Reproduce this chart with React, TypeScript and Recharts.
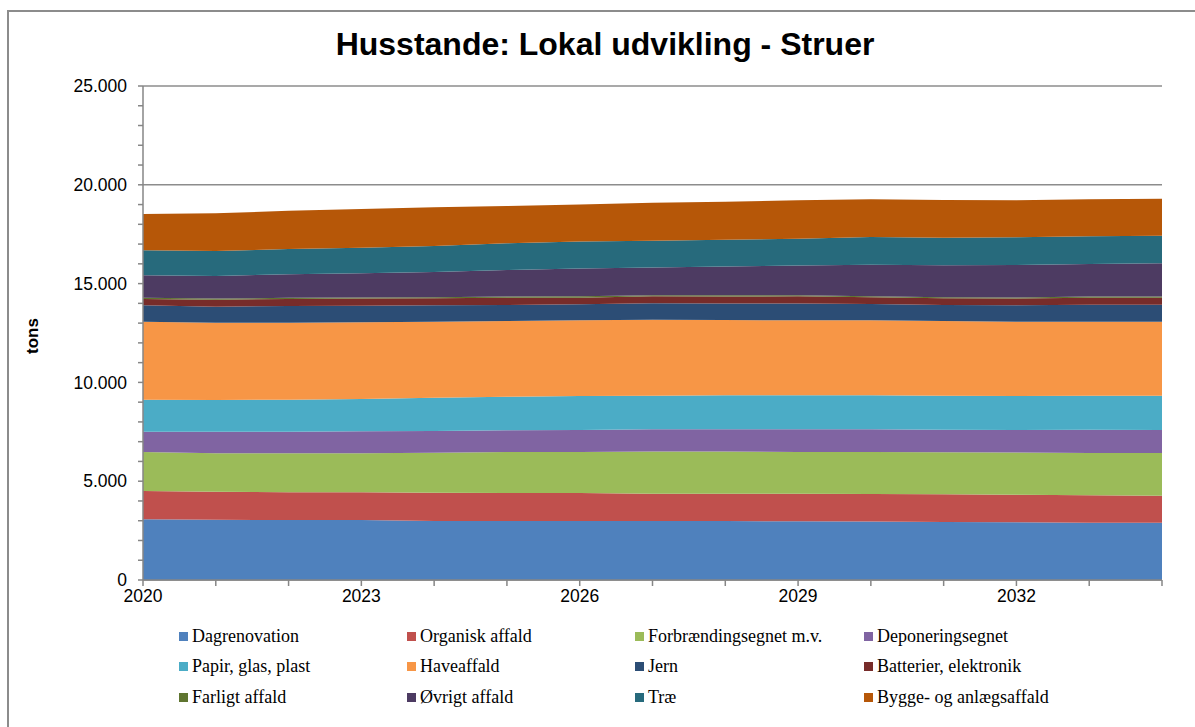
import React from 'react';
import { AreaChart, Area, XAxis, YAxis, CartesianGrid, Legend } from 'recharts';

const years = [2020, 2021, 2022, 2023, 2024, 2025, 2026, 2027, 2028, 2029, 2030, 2031, 2032, 2033, 2034];

const dagrenovation = [3070, 3050, 3035, 3035, 2990, 2985, 2985, 2985, 2980, 2970, 2955, 2935, 2920, 2900, 2900];
const organisk = [1435, 1420, 1405, 1405, 1430, 1415, 1415, 1385, 1390, 1390, 1395, 1400, 1400, 1385, 1370];
const forbraending = [1975, 1940, 1970, 1970, 2020, 2080, 2080, 2130, 2130, 2120, 2130, 2125, 2130, 2145, 2160];
const deponering = [1025, 1095, 1095, 1115, 1100, 1095, 1110, 1125, 1125, 1145, 1145, 1150, 1140, 1170, 1160];
const papir = [1620, 1605, 1620, 1635, 1685, 1700, 1720, 1700, 1720, 1720, 1720, 1720, 1720, 1730, 1740];
const have = [3945, 3910, 3895, 3880, 3845, 3835, 3830, 3850, 3815, 3795, 3795, 3775, 3760, 3740, 3740];
const jern = [830, 810, 845, 840, 830, 810, 810, 825, 830, 850, 825, 810, 830, 865, 865];
const batterier = [320, 355, 355, 360, 355, 365, 340, 355, 355, 365, 340, 340, 340, 350, 350];
const farligt = [60, 60, 60, 60, 60, 60, 65, 60, 60, 60, 60, 60, 60, 60, 60];
const oevrigt = [1140, 1140, 1190, 1220, 1275, 1345, 1405, 1405, 1455, 1495, 1595, 1610, 1640, 1645, 1680];
const trae = [1265, 1265, 1280, 1300, 1310, 1350, 1365, 1350, 1360, 1360, 1400, 1400, 1400, 1405, 1400];
const bygge = [1835, 1905, 1940, 1955, 1960, 1885, 1875, 1925, 1925, 1945, 1905, 1905, 1875, 1870, 1875];

const xLabelYears = [2020, 2023, 2026, 2029, 2032];
const yTicks = [0, 1000, 2000, 3000, 4000, 5000, 6000, 7000, 8000, 9000, 10000, 11000, 12000, 13000, 14000, 15000, 16000, 17000, 18000, 19000, 20000, 21000, 22000, 23000, 24000, 25000];
const yMajor = [0, 5000, 10000, 15000, 20000, 25000];
const yMax = 25000;

const series = [
  { key: 'dag', name: 'Dagrenovation', color: '#4F81BD', values: dagrenovation },
  { key: 'org', name: 'Organisk affald', color: '#C0504D', values: organisk },
  { key: 'for', name: 'Forbrændingsegnet m.v.', color: '#9BBB59', values: forbraending },
  { key: 'dep', name: 'Deponeringsegnet', color: '#8064A2', values: deponering },
  { key: 'pap', name: 'Papir, glas, plast', color: '#4BACC6', values: papir },
  { key: 'hav', name: 'Haveaffald', color: '#F79646', values: have },
  { key: 'jer', name: 'Jern', color: '#2C4D75', values: jern },
  { key: 'bat', name: 'Batterier, elektronik', color: '#772C2A', values: batterier },
  { key: 'far', name: 'Farligt affald', color: '#5F7530', values: farligt },
  { key: 'ovr', name: 'Øvrigt affald', color: '#4D3B62', values: oevrigt },
  { key: 'tra', name: 'Træ', color: '#276A7C', values: trae },
  { key: 'byg', name: 'Bygge- og anlægsaffald', color: '#B65708', values: bygge },
];

const data = years.map((year, i) => {
  const row: Record<string, number> = { year };
  series.forEach((s) => {
    row[s.key] = s.values[i];
  });
  return row;
});

const fmt = (v: number) => String(v).replace(/\B(?=(\d{3})+(?!\d))/g, '.');

const sansFont = '"Liberation Sans", Arial, sans-serif';
const serifFont = '"Liberation Serif", "Times New Roman", serif';

const renderLegend = () => (
  <div
    style={{
      display: 'grid',
      gridTemplateColumns: '228px 228px 229px 240px',
      fontFamily: serifFont,
      fontSize: 18,
      color: '#000',
    }}
  >
    {series.map((s) => (
      <div key={s.key} style={{ display: 'flex', alignItems: 'center', height: 30.5, whiteSpace: 'nowrap' }}>
        <span style={{ display: 'inline-block', width: 9, height: 9, background: s.color, marginRight: 4 }} />
        <span>{s.name}</span>
      </div>
    ))}
  </div>
);

const gridGen = (props: any) => {
  const off = props && props.offset ? props.offset : { top: 86, height: 494 };
  return yMajor.map((v) => off.top + off.height * (1 - v / yMax));
};

export default function App() {
  return (
    <div style={{ position: 'absolute', left: 0, top: 0, width: 1195, height: 727, background: '#fff', overflow: 'hidden' }}>
      <div
        style={{
          position: 'absolute',
          left: 7,
          top: 10,
          width: 1400,
          height: 900,
          borderLeft: '2px solid #8c8c8c',
          borderTop: '2px solid #8c8c8c',
        }}
      />
      <div
        style={{
          position: 'absolute',
          left: 0,
          width: 1210,
          top: 24,
          textAlign: 'center',
          fontFamily: sansFont,
          fontWeight: 'bold',
          fontSize: 32,
          lineHeight: '40px',
          color: '#000',
        }}
      >
        Husstande: Lokal udvikling - Struer
      </div>
      <div style={{ position: 'absolute', left: 0, top: 0 }}>
        <AreaChart width={1195} height={727} data={data} margin={{ top: 86, right: 33, bottom: 117, left: 0 }}>
          <CartesianGrid
            vertical={false}
            stroke="#8c8c8c"
            strokeWidth={1.5}
            horizontalCoordinatesGenerator={gridGen}
          />
          <XAxis
            dataKey="year"
            type="number"
            domain={[2020, 2034]}
            ticks={years}
            interval={0}
            tickFormatter={(v: number) => (xLabelYears.includes(v) ? String(v) : '')}
            height={30}
            tickSize={6}
            tickMargin={4}
            axisLine={{ stroke: '#868686', strokeWidth: 1.5 }}
            tickLine={{ stroke: '#868686', strokeWidth: 1.5 }}
            tick={{ fill: '#000', fontFamily: sansFont, fontSize: 17.5 }}
          />
          <YAxis
            type="number"
            domain={[0, yMax]}
            ticks={yTicks}
            interval={0}
            tickFormatter={(v: number) => (v % 5000 === 0 ? fmt(v) : '')}
            width={143}
            tickSize={5}
            tickMargin={11}
            axisLine={{ stroke: '#868686', strokeWidth: 1.5 }}
            tickLine={{ stroke: '#868686', strokeWidth: 1.5 }}
            tick={{ fill: '#000', fontFamily: sansFont, fontSize: 17.5 }}
            label={{
              content: () => (
                <text
                  x={32}
                  y={336}
                  transform="rotate(-90 32 336)"
                  textAnchor="middle"
                  dominantBaseline="central"
                  fontFamily={sansFont}
                  fontWeight="bold"
                  fontSize={17}
                  fill="#000"
                >
                  tons
                </text>
              ),
            }}
          />
          {series.map((s) => (
            <Area
              key={s.key}
              type="linear"
              dataKey={s.key}
              name={s.name}
              stackId="1"
              stroke="none"
              fill={s.color}
              fillOpacity={1}
              isAnimationActive={false}
              dot={false}
              activeDot={false}
            />
          ))}
          <Legend
            layout="horizontal"
            verticalAlign="middle"
            align="center"
            content={renderLegend}
            wrapperStyle={{ position: 'absolute', left: 179, top: 621, width: 960 }}
          />
        </AreaChart>
      </div>
    </div>
  );
}
